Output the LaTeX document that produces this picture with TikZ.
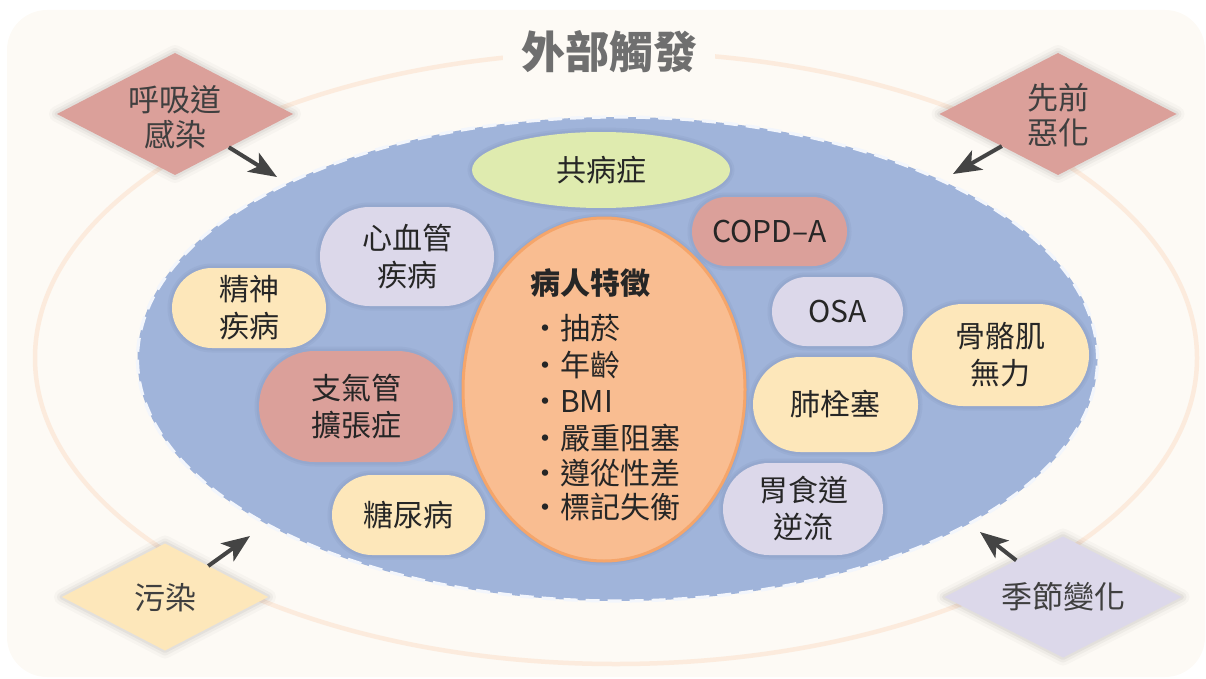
\documentclass[tikz,border=0pt]{standalone}
\usepackage{fontspec}
\setmainfont{Noto Sans CJK TC}
\usetikzlibrary{shapes.geometric,shapes.misc,arrows.meta}
\definecolor{bgc}{HTML}{FDFAF5}
\definecolor{outerc}{HTML}{FCEBDD}
\definecolor{zonec}{HTML}{A0B4DA}
\definecolor{dashc}{HTML}{F3F6FC}
\definecolor{pinkc}{HTML}{DBA09A}
\definecolor{yellc}{HTML}{FDE7BA}
\definecolor{lavc}{HTML}{DCD8EA}
\definecolor{greenc}{HTML}{DFEBAF}
\definecolor{orfill}{HTML}{F9BD91}
\definecolor{ordraw}{HTML}{F5A56A}
\definecolor{txt}{HTML}{262626}
\definecolor{diatxt}{HTML}{3F3F3F}
\definecolor{titlec}{HTML}{6F6F6F}
\definecolor{arrc}{HTML}{444444}
\definecolor{shc}{HTML}{3A4A70}
\begin{document}
\begin{tikzpicture}[x=1pt,y=-1pt,
  every node/.style={inner sep=0pt, outer sep=0pt, text=txt, font=\fontsize{30}{37}\selectfont},
  softshadow/.style={preaction={draw=shc, draw opacity=0.05, line width=9pt},
                     preaction={draw=shc, draw opacity=0.05, line width=5pt}},
  glow/.style={preaction={draw=black, draw opacity=0.025, line width=16pt, line join=round},
               preaction={draw=black, draw opacity=0.035, line width=10pt, line join=round},
               preaction={draw=black, draw opacity=0.045, line width=5pt, line join=round}},
  pill/.style={rounded rectangle, align=center, softshadow},
  dia/.style={diamond, glow},
  diatext/.style={align=center, text=diatxt, font=\fontsize{31}{35}\selectfont},
  arr/.style={line width=4pt, draw=arrc, -{Stealth[length=28pt, width=22pt, inset=7pt]}},
  bl/.style={anchor=west, font=\fontsize{30}{36}\selectfont}
]
\useasboundingbox (0,0) rectangle (1206,679);
% background
\node[rectangle, rounded corners=40pt, fill=bgc, minimum width=1198pt, minimum height=667pt] (bg) at (606,343.5) {};
% outer ellipse
\node[ellipse, draw=outerc, line width=4.5pt, minimum width=1162pt, minimum height=612pt] (outer) at (616,358) {};
\node[fill=bgc, minimum width=212pt, minimum height=46pt, text=titlec, font=\fontsize{44}{50}\selectfont\bfseries] (title) at (609,52) {外部觸發};
% inner zone
\node[ellipse, fill=zonec, draw=dashc, line width=3.2pt, dash pattern=on 14pt off 8pt, minimum width=960pt, minimum height=484pt] (zone) at (617.5,359) {};

% diamonds
\node[dia, fill=pinkc, minimum width=236pt, minimum height=122pt] (d1) at (175,114) {};
\node[diatext] (d1t) at (175,117) {呼吸道\\感染};
\node[dia, fill=pinkc, minimum width=237pt, minimum height=122pt] (d2) at (1058,114) {};
\node[diatext] (d2t) at (1058,115) {先前\\惡化};
\node[dia, fill=yellc, minimum width=206pt, minimum height=107pt] (d3) at (165,597) {};
\node[diatext] (d3t) at (165,598) {污染};
\node[dia, fill=lavc, minimum width=237pt, minimum height=121pt] (d4) at (1063,597) {};
\node[diatext] (d4t) at (1063,597) {季節變化};

% arrow tips
\coordinate (t1) at (277,177);
\coordinate (t2) at (953,174);
\coordinate (t3) at (250,536);
\coordinate (t4) at (980,532);
\draw[arr] (d1) -- (t1);
\draw[arr] (d2) -- (t2);
\draw[arr] (d3) -- (t3);
\draw[arr] (d4) -- (t4);

% comorbidities
\node[ellipse, fill=greenc, minimum width=258pt, minimum height=76pt, softshadow] (como) at (601,170) {共病症};
\node[pill, fill=lavc, minimum width=174pt, minimum height=99pt] (cv) at (407,256.5) {心血管\\疾病};
\node[pill, fill=yellc, minimum width=154pt, minimum height=80pt] (psy) at (249,308) {精神\\疾病};
\node[pill, fill=pinkc, minimum width=194pt, minimum height=111pt] (bronch) at (356,406.5) {支氣管\\擴張症};
\node[pill, fill=yellc, minimum width=153pt, minimum height=80pt] (dm) at (408.5,515) {糖尿病};
\node[pill, fill=pinkc, minimum width=155pt, minimum height=69pt] (copd) at (769.5,231.5) {COPD–A};
\node[pill, fill=lavc, minimum width=131pt, minimum height=69pt] (osa) at (837.5,311.5) {OSA};
\node[pill, fill=yellc, minimum width=177pt, minimum height=102pt] (musc) at (1000.5,355) {骨骼肌\\無力};
\node[pill, fill=yellc, minimum width=165pt, minimum height=95pt] (pe) at (835.5,404.5) {肺栓塞};
\node[pill, fill=lavc, minimum width=160pt, minimum height=92pt] (gerd) at (803,509) {胃食道\\逆流};

% patient characteristics
\node[ellipse, fill=orfill, draw=ordraw, line width=3pt, minimum width=282pt, minimum height=343pt, softshadow] (pat) at (604,389.5) {};
\node[bl, font=\fontsize{30}{36}\selectfont\bfseries] (p0) at (530,283) {病人特徵};
\node[bl] (p1) at (530,328) {・抽菸};
\node[bl] (p2) at (530,365) {・年齡};
\node[bl] (p3) at (530,402) {・BMI};
\node[bl] (p4) at (530,438) {・嚴重阻塞};
\node[bl] (p5) at (530,473) {・遵從性差};
\node[bl] (p6) at (530,507) {・標記失衡};
\end{tikzpicture}
\end{document}
